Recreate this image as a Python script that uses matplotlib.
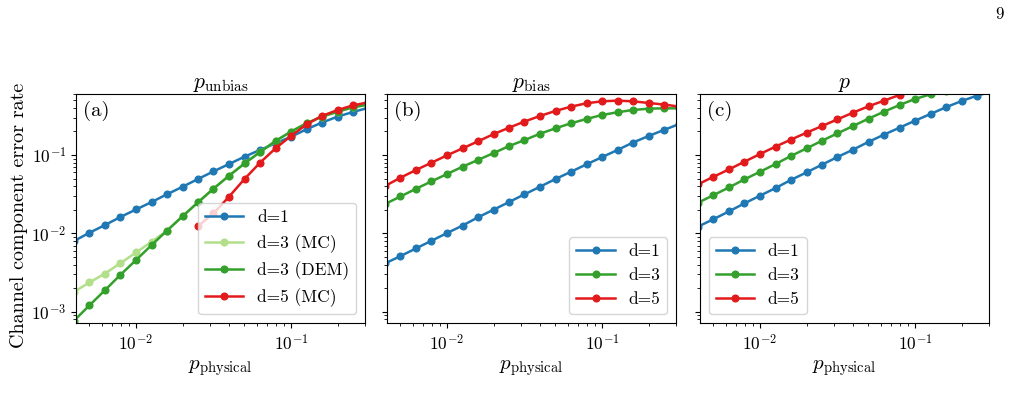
import matplotlib
matplotlib.use("Agg")
import matplotlib.pyplot as plt

plt.rcParams['font.family'] = 'cmr10'
plt.rcParams['mathtext.fontset'] = 'cm'
plt.rcParams['axes.unicode_minus'] = False
plt.rcParams['axes.formatter.use_mathtext'] = True

p_phys = [0.00398, 0.00501, 0.00631, 0.00794, 0.01, 0.0126, 0.0158, 0.02, 0.0251, 0.0316,
          0.0398, 0.0501, 0.0631, 0.0794, 0.1, 0.126, 0.158, 0.2, 0.251, 0.316]

# Panel (a): p_unbias
a_d1 = [0.0080, 0.0102, 0.0128, 0.0162, 0.0202, 0.0251, 0.0315, 0.0394, 0.0494, 0.0618,
        0.0767, 0.0952, 0.116, 0.141, 0.171, 0.213, 0.259, 0.309, 0.354, 0.40]
a_d3_mc = [0.0018, 0.00237, 0.00308, 0.00418, 0.00571, 0.00783, 0.0108, 0.0166, 0.0249, 0.0372,
           0.0544, 0.078, 0.109, 0.151, 0.199, 0.254, 0.308, 0.357, 0.406, 0.44]
a_d3_dem = [0.00077, 0.00121, 0.00189, 0.00297, 0.00457, 0.0071, 0.0108, 0.0166, 0.0249, 0.0372,
            0.0544, 0.078, 0.109, 0.151, 0.199, 0.254, 0.308, 0.357, 0.406, 0.44]
a_d5_p = [0.0251, 0.0316, 0.0398, 0.0501, 0.0631, 0.0794, 0.1, 0.126, 0.158, 0.2, 0.251, 0.316]
a_d5_mc = [0.0124, 0.018, 0.0294, 0.0494, 0.0798, 0.1216, 0.175, 0.246, 0.315, 0.375, 0.43, 0.47]

# Panel (b): p_bias
b_d1 = [0.00414, 0.00514, 0.00644, 0.00806, 0.0101, 0.0126, 0.016, 0.0201, 0.0251, 0.0315,
        0.0394, 0.0494, 0.0612, 0.076, 0.094, 0.116, 0.144, 0.175, 0.209, 0.249]
b_d3 = [0.0237, 0.0296, 0.0371, 0.0461, 0.0572, 0.071, 0.0863, 0.106, 0.130, 0.155,
        0.187, 0.219, 0.254, 0.288, 0.324, 0.351, 0.375, 0.390, 0.394, 0.394]
b_d5 = [0.0402, 0.0514, 0.0644, 0.0798, 0.099, 0.1217, 0.149, 0.185, 0.223, 0.267,
        0.315, 0.365, 0.414, 0.457, 0.484, 0.494, 0.484, 0.461, 0.44, 0.414]

# Panel (c): p
c_d1 = [0.0122, 0.0152, 0.0191, 0.0242, 0.0303, 0.0379, 0.048, 0.0601, 0.0753, 0.0943,
        0.117, 0.147, 0.182, 0.223, 0.274, 0.334, 0.406, 0.489, 0.571, 0.65]
c_d3 = [0.0246, 0.0308, 0.0386, 0.0489, 0.0612, 0.0767, 0.097, 0.1217, 0.152, 0.189,
        0.234, 0.291, 0.357, 0.434, 0.519, 0.594, 0.66, 0.72, 0.76, 0.78]
c_d5 = [0.0423, 0.0528, 0.0656, 0.0822, 0.103, 0.128, 0.157, 0.193, 0.234, 0.285,
        0.347, 0.418, 0.494, 0.583, 0.68, 0.78, 0.87, 0.94, 0.98, 0.99]

titles = [r'$p_{\mathrm{unbias}}$', r'$p_{\mathrm{bias}}$', r'$p$']
panel_labels = ['(a)', '(b)', '(c)']

c_blue = '#1f78b4'
c_lgreen = '#b2df8a'
c_green = '#33a02c'
c_red = '#e31a1c'

fig = plt.figure(figsize=(10.12, 4.19), dpi=100)
lefts = [76, 387, 700]
W, H = 1012, 419
axes = []
for i, l in enumerate(lefts):
    ax = fig.add_axes([l / W, (H - 323) / H, 289 / W, 229 / H], sharey=axes[0] if axes else None)
    axes.append(ax)

kw = dict(marker='o', markersize=4.8, linewidth=1.8)

ax = axes[0]
ax.plot(p_phys, a_d1, color=c_blue, label='d=1', **kw)
ax.plot(p_phys, a_d3_mc, color=c_lgreen, label='d=3 (MC)', **kw)
ax.plot(p_phys, a_d3_dem, color=c_green, label='d=3 (DEM)', **kw)
ax.plot(a_d5_p, a_d5_mc, color=c_red, label='d=5 (MC)', **kw)
ax.legend(loc='lower right', fontsize=12.5, handlelength=2.2)

ax = axes[1]
ax.plot(p_phys, b_d1, color=c_blue, label='d=1', **kw)
ax.plot(p_phys, b_d3, color=c_green, label='d=3', **kw)
ax.plot(p_phys, b_d5, color=c_red, label='d=5', **kw)
ax.legend(loc='lower right', fontsize=12.5, handlelength=2.2)

ax = axes[2]
ax.plot(p_phys, c_d1, color=c_blue, label='d=1', **kw)
ax.plot(p_phys, c_d3, color=c_green, label='d=3', **kw)
ax.plot(p_phys, c_d5, color=c_red, label='d=5', **kw)
ax.legend(loc='lower left', fontsize=12.5, handlelength=2.2)

for i, ax in enumerate(axes):
    ax.set_xscale('log')
    ax.set_yscale('log')
    ax.set_xlim(0.0041, 0.3)
    ax.set_ylim(7.2e-4, 0.60)
    ax.set_title(titles[i], fontsize=15.5, pad=4)
    ax.set_xlabel(r'$p_{\mathrm{physical}}$', fontsize=15)
    ax.tick_params(labelsize=12.5)
    ax.text(0.025, 0.97, panel_labels[i], transform=ax.transAxes, fontsize=15,
            ha='left', va='top')
    if i > 0:
        ax.tick_params(labelleft=False)

axes[0].set_ylabel('Channel component error rate', fontsize=14.5)
axes[0].yaxis.set_label_coords(-0.166, 0.47)

fig.text(1000 / W, 1 - 14 / H, '9', fontsize=12, ha='center', va='center')

fig.savefig('out.png', dpi=100)
